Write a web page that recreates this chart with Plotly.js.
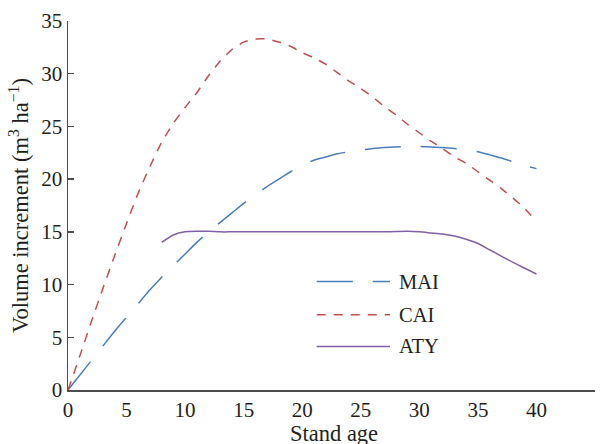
<!DOCTYPE html>
<html>
<head>
<meta charset="utf-8">
<script src="https://cdn.plot.ly/plotly-3.0.1.min.js"></script>
<style>html,body{margin:0;padding:0;background:#fff;}#chart{width:604px;height:444px;}</style>
</head>
<body>
<div id="chart"></div>
<script>
// Stand age (years)
const ageMAI = [0,1,2,3,4,5,6,7,8,9,10,11,12,13,14,15,16,17,18,19,20,21,22,23,24,25,26,27,28,29,30,31,32,33,34,35,36,37,38,39,40];
const mai = [0,1.4,2.8,4.2,5.6,6.9,8.2,9.5,10.7,11.8,12.9,14.0,15.0,15.9,16.8,17.7,18.5,19.3,20.0,20.7,21.3,21.8,22.1,22.4,22.6,22.75,22.9,23.0,23.05,23.1,23.1,23.05,23.0,22.9,22.75,22.6,22.3,22.0,21.65,21.3,21.0];
const ageCAI = ageMAI;
const cai = [0,3.2,6.5,9.7,12.8,15.8,18.7,21.2,23.5,25.3,26.8,28.2,29.8,31.2,32.3,33.0,33.3,33.3,33.0,32.6,32.0,31.5,30.9,30.1,29.3,28.6,27.8,26.9,26.1,25.2,24.4,23.6,22.9,22.1,21.5,20.7,19.9,19.1,18.2,17.2,16.0];
const ageATY = [8,9,10,11,12,13,14,15,16,17,18,19,20,21,22,23,24,25,26,27,28,29,30,31,32,33,34,35,36,37,38,39,40];
const aty = [14.0,14.7,15.0,15.05,15.05,15.0,15.0,15.0,15.0,15.0,15.0,15.0,15.0,15.0,15.0,15.0,15.0,15.0,15.0,15.0,15.03,15.05,15.0,14.9,14.8,14.6,14.3,13.9,13.3,12.7,12.1,11.55,11.0];
const seriesNames = ['MAI','CAI','ATY'];
const xTicks = [0,5,10,15,20,25,30,35,40,45];
const yTicks = [0,5,10,15,20,25,30,35];
const xTitle = 'Stand age';
const yTitle = 'Volume increment (m<sup>3</sup> ha<sup>−1</sup>)';

const colors = ['#4a7ebb','#c0504d','#7f62a6'];
const dashes = ['36px,20px','9px,8px','solid'];
const font = 'Liberation Serif, Times New Roman, serif';

const xs = [ageMAI, ageCAI, ageATY];
const ys = [mai, cai, aty];
const traces = seriesNames.map((n,i)=>({
  x: xs[i], y: ys[i], name: n, type: 'scatter', mode: 'lines',
  line: {color: colors[i], width: 1.5, dash: dashes[i], shape: 'spline', smoothing: 0.6},
  showlegend: false, hoverinfo: 'skip'
}));

// custom legend (long sample lines)
const legY = [0.2938, 0.2037, 0.118];
const shapes = [];
const annotations = [];
seriesNames.forEach((n,i)=>{
  shapes.push({type:'line', xref:'paper', yref:'paper', x0:0.472, x1:0.611, y0:legY[i], y1:legY[i],
    line:{color:colors[i], width:1.5, dash:dashes[i]}});
  annotations.push({xref:'paper', yref:'paper', x:0.6237, y:legY[i], xanchor:'left', yanchor:'middle',
    text:n, showarrow:false, font:{family:font, size:20.5, color:'#231f20'}});
});
// x-axis title placed below tick labels
annotations.push({xref:'paper', yref:'paper', x:0.504, y:-0.117, xanchor:'center', yanchor:'middle',
  text:xTitle, showarrow:false, font:{family:font, size:22.5, color:'#231f20'}});

const layout = {
  width: 604, height: 444,
  margin: {l:68, r:9, t:20.7, b:53.7},
  paper_bgcolor: '#fff', plot_bgcolor: '#fff',
  font: {family: font, size: 21, color: '#231f20'},
  xaxis: {
    range: [0,45], tickvals: xTicks, ticktext: xTicks.map(String),
    showgrid: false, zeroline: false, showline: true, linecolor: '#4d4d4d', linewidth: 2,
    ticks: '', fixedrange: true, tickfont: {family: font, size: 21}
  },
  yaxis: {
    range: [0,35], tickvals: yTicks, ticktext: yTicks.map(String),
    showgrid: false, zeroline: false, showline: true, linecolor: '#4d4d4d', linewidth: 1.5,
    ticks: 'inside', ticklen: 6, tickcolor: '#4d4d4d', tickwidth: 1.5, fixedrange: true,
    tickfont: {family: font, size: 21},
    title: {text: yTitle, font: {family: font, size: 22.5}, standoff: 6}
  },
  shapes: shapes,
  annotations: annotations
};

Plotly.newPlot('chart', traces, layout, {displayModeBar: false, staticPlot: true});
</script>
</body>
</html>
